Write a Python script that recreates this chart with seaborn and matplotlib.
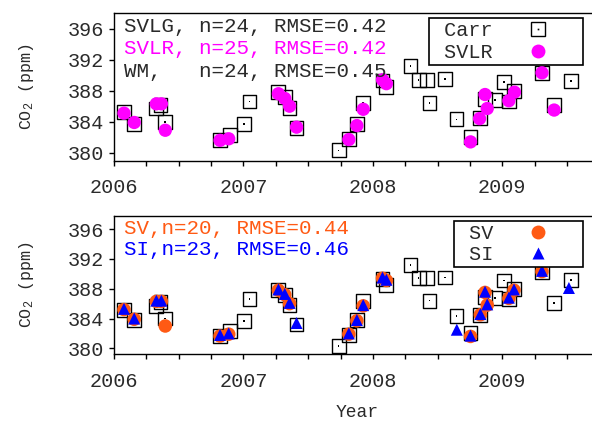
import numpy as np
import pandas as pd
import matplotlib
matplotlib.use("Agg")
import matplotlib.pyplot as plt
import seaborn as sns
from matplotlib.lines import Line2D

# ---- data (decimal year, ppm) ----
carr_x = [2006.077, 2006.156, 2006.327, 2006.359, 2006.396, 2006.819, 2006.898,
          2007.005, 2007.047, 2007.270, 2007.319, 2007.356, 2007.410, 2007.735,
          2007.814, 2007.876, 2007.925, 2008.074, 2008.104, 2008.290, 2008.353,
          2008.415, 2008.437, 2008.556, 2008.646, 2008.754, 2008.824, 2008.866,
          2008.944, 2009.014, 2009.050, 2009.093, 2009.306, 2009.400, 2009.530]
carr_y = [385.2, 383.75, 385.7, 386.2, 384.0, 381.6, 382.3,
          383.7, 386.6, 387.8, 387.2, 385.8, 383.2, 380.3,
          381.8, 383.75, 386.4, 389.3, 388.5, 391.2, 389.4,
          389.4, 386.4, 389.5, 384.3, 382.0, 384.5, 386.9,
          386.8, 389.1, 386.6, 388.0, 390.3, 386.1, 389.2]

svlr_x = [2006.077, 2006.156, 2006.327, 2006.366, 2006.396, 2006.819, 2006.886,
          2007.270, 2007.319, 2007.356, 2007.410, 2007.814, 2007.876, 2007.925,
          2008.074, 2008.104, 2008.754, 2008.824, 2008.866, 2008.883, 2009.050,
          2009.093, 2009.306, 2009.400]
svlr_y = [385.1, 383.9, 386.3, 386.3, 382.9, 381.6, 381.8,
          387.6, 387.0, 386.0, 383.3, 381.7, 383.5, 385.6,
          389.4, 388.9, 381.4, 384.4, 387.5, 385.7, 386.7,
          387.8, 390.3, 385.5]

sv_x = [2006.077, 2006.156, 2006.327, 2006.366, 2006.396, 2006.819, 2006.886,
        2007.270, 2007.319, 2007.356, 2007.814, 2007.876, 2007.925, 2008.074,
        2008.104, 2008.754, 2008.830, 2008.866, 2008.883, 2009.050, 2009.090,
        2009.306]
sv_y = [385.2, 383.9, 386.3, 386.3, 383.0, 381.65, 381.9,
        387.8, 387.2, 386.0, 381.9, 383.7, 385.7, 389.4,
        389.1, 381.6, 384.5, 387.5, 385.8, 386.7, 387.8,
        390.3]

si_x = [2006.077, 2006.156, 2006.327, 2006.366, 2006.819, 2006.886,
        2007.270, 2007.319, 2007.356, 2007.410, 2007.814, 2007.876, 2007.925,
        2008.074, 2008.104, 2008.648, 2008.754, 2008.830, 2008.866, 2008.883,
        2009.050, 2009.090, 2009.306, 2009.514]
si_y = [385.3, 384.0, 386.4, 386.4, 381.8, 382.0,
        387.9, 387.3, 386.1, 383.4, 382.0, 383.8, 385.8,
        389.5, 389.2, 382.5, 381.7, 384.6, 387.6, 385.9,
        386.8, 387.9, 390.4, 388.1]

top_texts = ["SVLG, n=24, RMSE=0.42", "SVLR, n=25, RMSE=0.42", "WM,   n=24, RMSE=0.45"]
bot_texts = ["SV,n=20, RMSE=0.44", "SI,n=23, RMSE=0.46"]
year_ticks = [2006, 2007, 2008, 2009]
ppm_ticks = [380, 384, 388, 392, 396]

carr = pd.DataFrame({"x": carr_x, "y": carr_y})
svlr = pd.DataFrame({"x": svlr_x, "y": svlr_y})
sv = pd.DataFrame({"x": sv_x, "y": sv_y})
si = pd.DataFrame({"x": si_x, "y": si_y})

MAGENTA = "#FF00FF"
ORANGE = "#FF5A14"
BLUE = "#0000FF"
TXT = "#2a2a2a"

sns.set_theme(style="white")
FONT = "Liberation Mono"
plt.rcParams["font.family"] = [FONT, "DejaVu Sans"]
plt.rcParams["mathtext.fontset"] = "custom"
plt.rcParams["mathtext.rm"] = FONT
plt.rcParams["mathtext.it"] = FONT
plt.rcParams["mathtext.bf"] = FONT

fig = plt.figure(figsize=(5.92, 4.22), dpi=100)
W = 0.82
xmax = 2006 + W * 592 / 134.7
ax1 = fig.add_axes([0.1926, 0.6185, W, 0.3507])
ax2 = fig.add_axes([0.1926, 0.1604, W, 0.3285])


def draw_carr(ax):
    sns.scatterplot(data=carr, x="x", y="y", ax=ax, marker="s", s=100,
                    facecolors="none", edgecolor="black", linewidth=1.0,
                    legend=False, zorder=2)
    sns.scatterplot(data=carr, x="x", y="y", ax=ax, marker="s", s=1.5,
                    color="black", edgecolor="none", linewidth=0,
                    legend=False, zorder=2)


def style_axes(ax, ylim):
    ax.set_xlim(2006, xmax)
    ax.set_ylim(*ylim)
    ax.set_xticks(year_ticks)
    ax.set_xticklabels([str(t) for t in year_ticks])
    ax.set_xticks(np.arange(2006, 2009.76, 0.25), minor=True)
    ax.set_yticks(ppm_ticks)
    ax.tick_params(axis="both", which="both", direction="out", length=3.5,
                   width=1.0, color="black", labelsize=14.5, labelcolor=TXT)
    ax.tick_params(axis="x", which="both", bottom=True, pad=9)
    ax.tick_params(axis="y", which="both", left=True, pad=3.5)
    for sp in ax.spines.values():
        sp.set_color("black")
        sp.set_linewidth(1.0)
    ax.spines["right"].set_visible(False)
    ax.set_ylabel("CO$_\\mathrm{2}$ (ppm)", fontsize=12, color=TXT)
    ax.yaxis.set_label_coords(-0.16, 0.5)
    ax.set_xlabel("")


# ---- top panel ----
draw_carr(ax1)
sns.scatterplot(data=svlr, x="x", y="y", ax=ax1, marker="o", s=92,
                color=MAGENTA, edgecolor="none", linewidth=0, legend=False, zorder=3)
style_axes(ax1, (378.94, 398.0))
for txt, yy, col in zip(top_texts, [0.907, 0.761, 0.608], [TXT, MAGENTA, TXT]):
    ax1.text(0.0212, yy, txt, transform=ax1.transAxes, fontsize=15, color=col,
             ha="left", va="center")

carr_h = (Line2D([], [], ls="none", marker="s", ms=10, mfc="none", mec="black", mew=1.0),
          Line2D([], [], ls="none", marker="s", ms=1.2, mfc="black", mec="none"))
svlr_h = Line2D([], [], ls="none", marker="o", ms=10, mfc=MAGENTA, mec="none")
leg_kw = dict(loc="upper right", markerfirst=False, fontsize=14.5, borderpad=0.15,
              handlelength=4.2, handletextpad=0.13, labelspacing=0.12, borderaxespad=0,
              fancybox=False, framealpha=1, edgecolor="black")
l1 = ax1.legend([carr_h, svlr_h], [" Carr", " SVLR"], bbox_to_anchor=(0.9668, 0.9642), **leg_kw)
l1.get_frame().set_linewidth(1.2)
for t in l1.get_texts():
    t.set_color(TXT)

# ---- bottom panel ----
draw_carr(ax2)
sns.scatterplot(data=sv, x="x", y="y", ax=ax2, marker="o", s=95,
                color=ORANGE, edgecolor="none", linewidth=0, legend=False, zorder=3)
sns.scatterplot(data=si, x="x", y="y", ax=ax2, marker="^", s=75,
                color=BLUE, edgecolor="none", linewidth=0, legend=False, zorder=4)
style_axes(ax2, (379.2, 397.8))
for txt, yy, col in zip(bot_texts, [0.909, 0.758], [ORANGE, BLUE]):
    ax2.text(0.0212, yy, txt, transform=ax2.transAxes, fontsize=15, color=col,
             ha="left", va="center")
sv_h = Line2D([], [], ls="none", marker="o", ms=10, mfc=ORANGE, mec="none")
si_h = Line2D([], [], ls="none", marker="^", ms=9, mfc=BLUE, mec="none")
l2 = ax2.legend([sv_h, si_h], [" SV", " SI"], bbox_to_anchor=(0.9668, 0.964), **leg_kw)
l2.get_frame().set_linewidth(1.2)
for t in l2.get_texts():
    t.set_color(TXT)

ax2.set_xlabel("Year", fontsize=13, color=TXT)
ax2.xaxis.set_label_coords(0.5, -0.36)

fig.savefig("out.png", dpi=100)
